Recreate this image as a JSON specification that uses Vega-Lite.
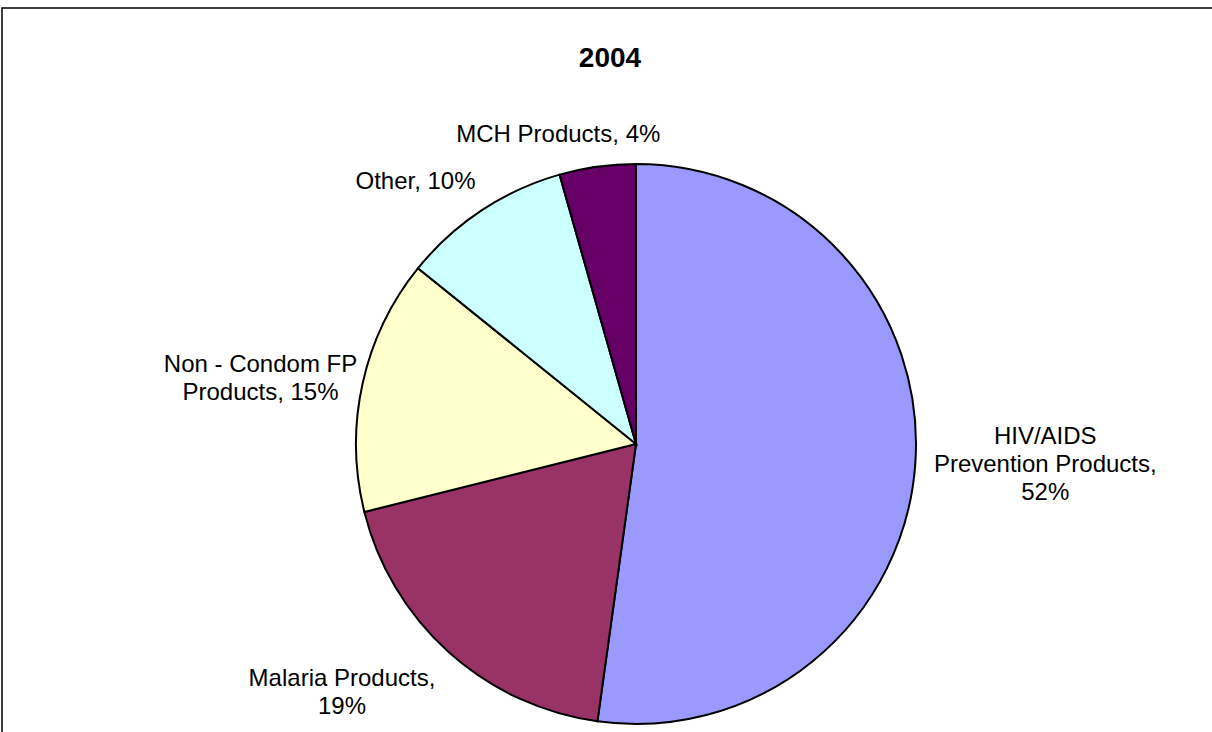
{
  "$schema": "https://vega.github.io/schema/vega-lite/v6.json",
  "width": 1268,
  "height": 872,
  "padding": {"left": 2, "top": 8, "right": 0, "bottom": 0},
  "autosize": {"type": "none"},
  "background": "white",
  "config": {
    "view": {"stroke": null},
    "font": "Liberation Sans"
  },
  "title": {
    "text": "2004",
    "fontSize": 28,
    "fontWeight": "bold",
    "font": "Liberation Sans",
    "color": "black",
    "anchor": "middle",
    "baseline": "alphabetic",
    "offset": -88,
    "dx": -26
  },
  "data": {
    "values": [
      {"category": "HIV/AIDS Prevention Products", "value": 52.2, "label": "HIV/AIDS\nPrevention Products,\n52%"},
      {"category": "Malaria Products", "value": 18.9, "label": "Malaria Products,\n19%"},
      {"category": "Non - Condom FP Products", "value": 14.7, "label": "Non - Condom FP\nProducts, 15%"},
      {"category": "Other", "value": 9.8, "label": "Other, 10%"},
      {"category": "MCH Products", "value": 4.4, "label": "MCH Products, 4%"}
    ]
  },
  "layer": [
    {
      "data": {"values": [{"frame": 1}]},
      "mark": {"type": "rect", "fill": "transparent", "stroke": "black", "strokeWidth": 1.5},
      "encoding": {}
    },
    {
      "mark": {"type": "arc", "outerRadius": 280, "stroke": "black", "strokeWidth": 2},
      "encoding": {
        "theta": {"field": "value", "type": "quantitative", "stack": true},
        "order": {"field": "value", "type": "quantitative", "sort": "descending"},
        "color": {
          "field": "category",
          "type": "nominal",
          "scale": {
            "domain": ["HIV/AIDS Prevention Products", "Malaria Products", "Non - Condom FP Products", "Other", "MCH Products"],
            "range": ["#9999FF", "#993366", "#FFFFCC", "#CCFFFF", "#660066"]
          },
          "legend": null
        }
      }
    },
    {
      "mark": {
        "type": "text",
        "radius": 300,
        "fontSize": 24,
        "font": "Liberation Sans",
        "color": "black",
        "lineBreak": "\n",
        "lineHeight": 28,
        "align": "center",
        "baseline": {"expr": "cos(PI*(datum.value_start+datum.value_end)/100) > 0.3 ? 'bottom' : (cos(PI*(datum.value_start+datum.value_end)/100) < -0.3 ? 'top' : 'middle')"},
        "dx": {"expr": "clamp(3*sin(PI*(datum.value_start+datum.value_end)/100), -1, 1) * 5.5 * max(length(split(datum.label, '\\n')[0]), length(split(datum.label, '\\n')[1] || ''), length(split(datum.label, '\\n')[2] || ''))"},
        "dy": {"expr": "abs(cos(PI*(datum.value_start+datum.value_end)/100)) <= 0.3 ? -(length(split(datum.label, '\\n')) - 1) * 14 : 0"}
      },
      "encoding": {
        "theta": {"field": "value", "type": "quantitative", "stack": true},
        "order": {"field": "value", "type": "quantitative", "sort": "descending"},
        "text": {"field": "label", "type": "nominal"}
      }
    }
  ]
}
